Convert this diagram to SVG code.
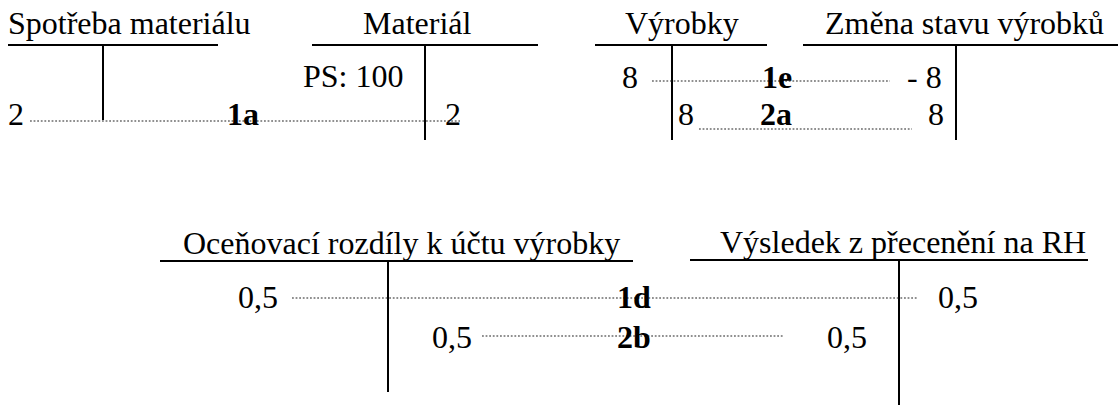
<svg xmlns="http://www.w3.org/2000/svg" width="1118" height="405" viewBox="0 0 1118 405">
  <style>
    text { font-family: "Liberation Serif", "Times New Roman", serif; font-size: 32px; fill: #000; }
    .b { font-weight: bold; }
    .rule { stroke: #000; stroke-width: 2; fill: none; }
    .dot { stroke: #222; stroke-width: 1.2; stroke-dasharray: 1.8 1.8; fill: none; }
  </style>
  <rect width="1118" height="405" fill="#fff"/>

  <!-- T-accounts -->
  <g id="spotreba-materialu">
    <text x="8" y="34">Spotřeba materiálu</text>
    <line class="rule" x1="8" y1="45" x2="218" y2="45"/>
    <line class="rule" x1="103" y1="45" x2="103" y2="120"/>
    <text x="8" y="125">2</text>
  </g>
  <g id="material">
    <text x="363" y="34">Materiál</text>
    <line class="rule" x1="312" y1="45" x2="538" y2="45"/>
    <line class="rule" x1="425" y1="45" x2="425" y2="140"/>
    <text x="303" y="87">PS: 100</text>
    <text x="445" y="125">2</text>
  </g>
  <g id="vyrobky">
    <text x="625" y="34">Výrobky</text>
    <line class="rule" x1="595" y1="45" x2="767" y2="45"/>
    <line class="rule" x1="672" y1="45" x2="672" y2="140"/>
    <text x="622" y="88">8</text>
    <text x="678" y="125">8</text>
  </g>
  <g id="zmena-stavu-vyrobku">
    <text x="825" y="34">Změna stavu výrobků</text>
    <line class="rule" x1="803" y1="45" x2="1118" y2="45"/>
    <line class="rule" x1="956" y1="45" x2="956" y2="140"/>
    <text x="907" y="88">- 8</text>
    <text x="928" y="125">8</text>
  </g>
  <g id="ocenovaci-rozdily">
    <text x="183" y="254">Oceňovací rozdíly k účtu výrobky</text>
    <line class="rule" x1="160" y1="261" x2="633" y2="261"/>
    <line class="rule" x1="388" y1="261" x2="388" y2="392"/>
    <text x="238" y="308">0,5</text>
    <text x="432" y="348">0,5</text>
  </g>
  <g id="vysledek-z-preceneni">
    <text x="720" y="253">Výsledek z přecenění na RH</text>
    <line class="rule" x1="690" y1="260" x2="1088" y2="260"/>
    <line class="rule" x1="899" y1="260" x2="899" y2="405"/>
    <text x="938" y="308">0,5</text>
    <text x="827" y="348">0,5</text>
  </g>

  <!-- postings between accounts -->
  <g id="connectors">
    <line class="dot" x1="30" y1="121" x2="460" y2="121"/>
    <line class="dot" x1="652" y1="81" x2="890" y2="81"/>
    <line class="dot" x1="699" y1="129" x2="912" y2="129"/>
    <line class="dot" x1="292" y1="298" x2="918" y2="298"/>
    <line class="dot" x1="482" y1="336" x2="783" y2="336"/>
    <text class="b" x="227" y="125">1a</text>
    <text class="b" x="762" y="88">1e</text>
    <text class="b" x="760" y="125">2a</text>
    <text class="b" x="617" y="308">1d</text>
    <text class="b" x="617" y="348">2b</text>
  </g>
</svg>
